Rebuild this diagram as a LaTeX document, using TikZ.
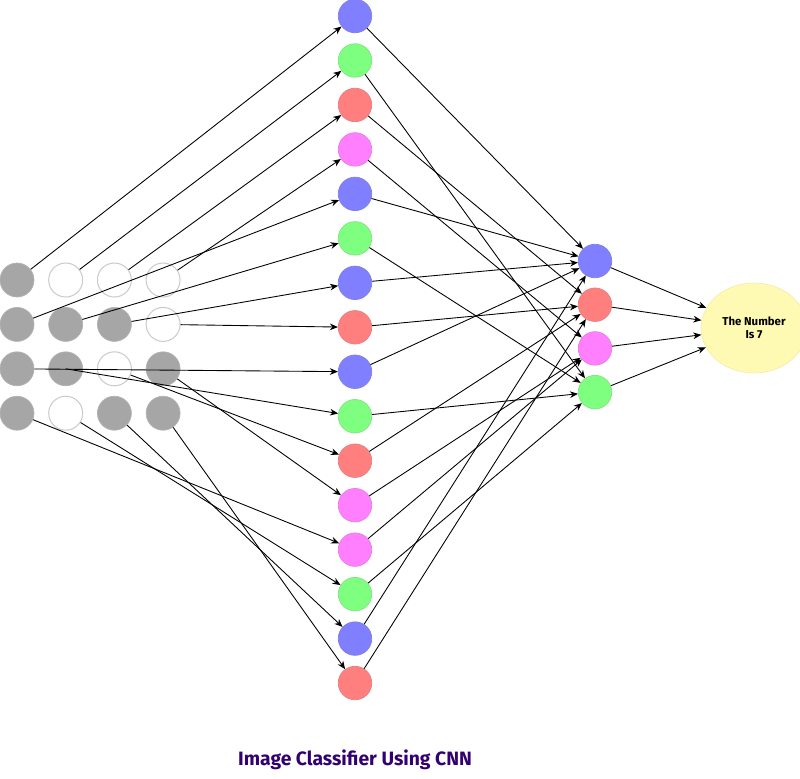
\documentclass[tikz,border=0pt]{standalone}
\usepackage{fontspec}
\setmainfont{Fira Sans}
\usetikzlibrary{arrows.meta,shapes.geometric}
\definecolor{nblue}{HTML}{7F7FFF}
\definecolor{ngreen}{HTML}{7FFF7F}
\definecolor{nred}{HTML}{FF7F7F}
\definecolor{npink}{HTML}{FF7FFF}
\definecolor{ngray}{HTML}{A6A6A6}
\definecolor{nring}{HTML}{CCCCCC}
\definecolor{nyellow}{HTML}{FFFAB3}
\definecolor{tpurple}{HTML}{33006F}
\tikzset{
	on/.style={circle,inner sep=0pt,minimum size=0.68cm,fill=ngray,draw=ngray!85!white},
	off/.style={circle,inner sep=0pt,minimum size=0.68cm,fill=white,draw=nring,semithick},
	unit/.style={circle,inner sep=0pt,minimum size=0.67cm,fill=#1,draw=#1!80!gray},
	link/.style={->,line width=0.5pt}
}
\begin{document}
\begin{tikzpicture}[x=0.02cm,y=-0.02cm, >={Stealth[length=4.6pt,width=3.8pt]}, line join=round]
	\useasboundingbox (0,0) rectangle (800,778);
	% input pixels, 4x4
	\foreach \s [count=\k] in {on,off,off,off,on,on,on,off,on,on,off,on,on,off,on,on}{
		\pgfmathsetmacro\px{17+48.7*mod(\k-1,4)}
		\pgfmathsetmacro\py{280+44.4*floor((\k-1)/4)}
		\node[\s] (i\k) at (\px,\py) {};}
	% hidden layer
	\foreach \c [count=\k] in {nblue,ngreen,nred,npink,nblue,ngreen,nblue,nred,nblue,ngreen,nred,npink,npink,ngreen,nblue,nred}{
		\node[unit=\c] (m\k) at (355,{16+44.47*(\k-1)}) {};}
	% second layer
	\foreach \c [count=\k] in {nblue,nred,npink,ngreen}{
		\node[unit=\c] (r\k) at (595,{261+43.7*(\k-1)}) {};}
	\node[ellipse,fill=nyellow,draw=nyellow!90!gray,minimum width=1.88cm,minimum height=1.8cm,
		align=center,font=\bfseries\fontsize{6.5}{7.5}\selectfont] (out) at (754,328) {The Number\\Is 7};
	% connections
	\foreach \k in {1,...,9,11,12,13,14,15,16}{
		\draw[link] (i\k) -- (m\k);}
	\draw[link] (i10.center) -- (m10);
	\foreach \a/\b in {1/1,2/4,3/2,4/3,5/1,6/4,7/1,8/2,9/1,10/4,11/2,12/3,13/3,14/4,15/1,16/2}{
		\draw[link] (m\a) -- (r\b);}
	\foreach \k in {1,...,4}{
		\draw[link] (r\k) -- (out);}
	\node[text=tpurple,font=\bfseries\fontsize{11}{13}\selectfont] (title) at (355,760) {Image Classifier Using CNN};
\end{tikzpicture}
\end{document}
